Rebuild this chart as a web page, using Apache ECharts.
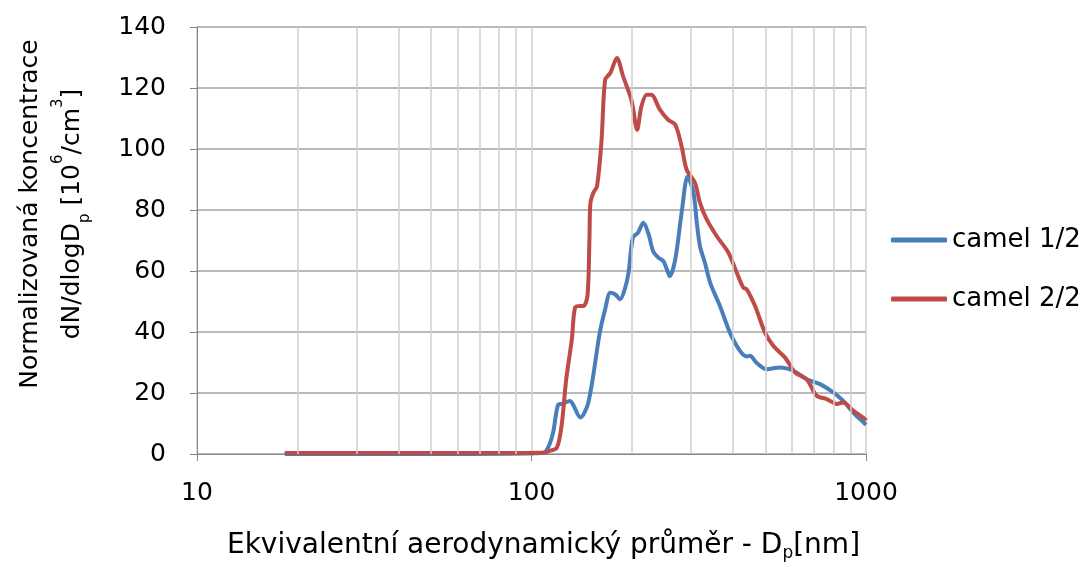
<!DOCTYPE html>
<html>
<head>
<meta charset="utf-8">
<script src="https://cdn.jsdelivr.net/npm/echarts@6/dist/echarts.min.js"></script>
<style>
  html, body { margin: 0; padding: 0; background: #fff; }
  #chart { width: 1087px; height: 567px; }
</style>
</head>
<body>
<div id="chart"></div>
<script>
// camel 1/2 - prumer [nm] a koncentrace
var camel1D = [18.3, 60, 108, 112, 116, 120, 124, 130, 140, 148, 160, 166, 172, 178, 184, 190, 195, 201, 208, 216, 224, 231, 240, 248, 254, 259, 269, 281, 293, 305, 312, 319, 330, 342, 366, 392, 420, 440, 450, 470, 505, 553, 607, 665, 729, 798, 855, 916, 982, 1000];
var camel1N = [0, 0, 0.3, 2, 7, 16, 16.5, 17.4, 12, 17, 39.8, 47.4, 52.9, 52.3, 50.7, 54, 59.4, 71, 72.5, 75.8, 72, 66.5, 64.3, 63.2, 60.5, 58.3, 63.8, 79, 91, 85.6, 75.8, 68.1, 62.7, 56.2, 48.5, 39.8, 33.8, 32, 32.2, 30, 27.8, 28.4, 27.3, 24.5, 22.9, 20.2, 17.4, 13.6, 10.4, 9.6];
// camel 2/2
var camel2D = [18.3, 80, 110, 113, 119, 123, 127, 132, 135, 140, 143, 147, 149, 150, 153, 157, 162, 166, 172, 180, 188, 199, 207, 213, 221, 228, 242, 256, 269, 281, 291, 308, 319, 334, 358, 388, 411, 430, 440, 466, 499, 529, 573, 614, 665, 712, 763, 818, 855, 916, 994, 1000];
var camel2N = [0.3, 0.3, 0.5, 1, 2, 9.3, 24.5, 37.6, 48, 48.5, 48.5, 51.8, 70.3, 82.3, 85.6, 87.8, 103, 122.7, 124.9, 129.8, 123.7, 116, 106.3, 113.9, 117.8, 117.8, 112.9, 109.6, 108, 100.9, 93.2, 88.9, 82.3, 76.9, 71.4, 66, 59.4, 54.5, 54, 48.5, 39.8, 35.4, 31.6, 26.7, 24.5, 19.1, 18, 16.4, 16.9, 14.2, 11.4, 11];
// vedlejsi mrizka na log ose
var minorGrid = [20, 30, 40, 50, 60, 70, 80, 90, 200, 300, 400, 500, 600, 700, 800, 900];
var yMin = 0;
var yMax = 140;

var FONT = 'DejaVu Sans';

function pairs(xs, ys) {
  return xs.map(function (x, i) { return [x, ys[i]]; });
}

var myChart = echarts.init(document.getElementById('chart'));
var option = {
  animation: false,
  textStyle: { fontFamily: FONT },
  grid: { left: 197, right: 221, top: 27, bottom: 112 },
  legend: {
    data: ['camel 1/2', 'camel 2/2'],
    orient: 'vertical',
    left: 886,
    top: 222,
    itemGap: 33,
    itemWidth: 56,
    itemHeight: 5,
    icon: 'roundRect',
    textStyle: { fontFamily: FONT, fontSize: 26, color: '#000' }
  },
  graphic: [{
    type: 'text',
    x: 51,
    y: 214,
    rotation: Math.PI / 2,
    style: {
      text: '{a|Normalizovaná koncentrace}\n{a|dN/dlogD}{sub|p}{a| [10}{sup|6}{a|/cm}{sup|3}{a|]}',
      align: 'center',
      verticalAlign: 'middle',
      fill: '#000',
      rich: {
        a: { fontFamily: FONT, fontSize: 25, lineHeight: 42, fill: '#000' },
        sub: { fontFamily: FONT, fontSize: 15, lineHeight: 42, verticalAlign: 'bottom', fill: '#000' },
        sup: { fontFamily: FONT, fontSize: 15, lineHeight: 42, verticalAlign: 'top', fill: '#000' }
      }
    }
  }],
  xAxis: {
    type: 'log',
    logBase: 10,
    min: 10,
    max: 1000,
    name: '{a|Ekvivalentní aerodynamický průměr - D}{sub|p}{a|[nm]}',
    nameLocation: 'middle',
    nameGap: 76,
    nameTextStyle: {
      padding: [0, 0, 0, 24],
      rich: {
        a: { fontFamily: FONT, fontSize: 28, color: '#000', lineHeight: 32 },
        sub: { fontFamily: FONT, fontSize: 17, color: '#000', verticalAlign: 'bottom', lineHeight: 32 }
      }
    },
    axisLine: { lineStyle: { color: '#868686', width: 1 } },
    axisTick: { show: true, length: 7, lineStyle: { color: '#868686' } },
    axisLabel: {
      fontFamily: FONT, fontSize: 25, color: '#000', margin: 27,
      formatter: function (v) { return String(Math.round(v)); }
    },
    splitLine: { show: true, lineStyle: { color: '#cfcfcf', width: 1.5 } }
  },
  yAxis: {
    type: 'value',
    min: yMin,
    max: yMax,
    interval: 20,
    axisLine: { show: true, lineStyle: { color: '#868686', width: 1 } },
    axisTick: { show: true, length: 7, lineStyle: { color: '#868686' } },
    axisLabel: { fontFamily: FONT, fontSize: 25, color: '#000', margin: 31 },
    splitLine: { show: true, lineStyle: { color: '#a3a3a3', width: 1.5 } }
  },
  series: [
    {
      name: 'grid',
      type: 'line',
      data: [],
      silent: true,
      z: 1,
      markLine: {
        silent: true,
        symbol: 'none',
        animation: false,
        label: { show: false },
        lineStyle: { color: '#cfcfcf', width: 1.5, type: 'solid' },
        data: minorGrid.map(function (v) {
          return [{ coord: [v, yMin] }, { coord: [v, yMax] }];
        })
      }
    },
    {
      name: 'camel 1/2',
      type: 'line',
      data: pairs(camel1D, camel1N),
      smooth: 0.3,
      symbol: 'none',
      z: 3,
      lineStyle: { color: '#4a7ebb', width: 4 },
      itemStyle: { color: '#4a7ebb' }
    },
    {
      name: 'camel 2/2',
      type: 'line',
      data: pairs(camel2D, camel2N),
      smooth: 0.3,
      symbol: 'none',
      z: 4,
      lineStyle: { color: '#be4b48', width: 4 },
      itemStyle: { color: '#be4b48' }
    }
  ]
};
myChart.setOption(option);
</script>
</body>
</html>
